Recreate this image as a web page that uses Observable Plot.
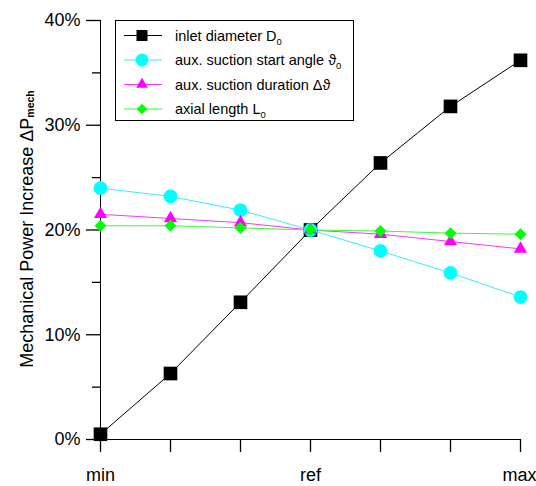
<!DOCTYPE html>
<html><head><meta charset="utf-8">
<script src="https://cdn.jsdelivr.net/npm/d3@7"></script>
<script src="https://cdn.jsdelivr.net/npm/@observablehq/plot@0.6"></script>
<style>body{margin:0;background:#fff}svg{font-family:"Liberation Sans",Arial,sans-serif}</style>
</head><body><div id="c"></div>
<script>
const positions = [0,1,2,3,4,5,6];
const xTickLabels = ["min","","","ref","","","max"];
const inletDiameter = [0.5, 6.3, 13.1, 20.0, 26.4, 31.8, 36.2];
const startAngle = [24.0, 23.2, 21.9, 20.0, 18.0, 15.9, 13.6];
const duration = [21.5, 21.1, 20.7, 20.0, 19.6, 18.9, 18.2];
const axialLength = [20.4, 20.4, 20.2, 20.0, 19.9, 19.7, 19.6];
const yTicks = [0,5,10,15,20,25,30,35,40];

const series = [
  {name:"inlet diameter", sub:"D", idx:"0", values:inletDiameter, color:"#000000", line:"#000000", symbol:"square", r:7.7, lr:6.2},
  {name:"aux. suction start angle", sub:"ϑ", idx:"0", values:startAngle, color:"#00ffff", line:"#33eeff", symbol:"circle", r:6.9, lr:6.4},
  {name:"aux. suction duration", sub:"Δϑ", idx:"", values:duration, color:"#ff00ff", line:"#ff33ff", symbol:"triangle", r:4.9, lr:4.3},
  {name:"axial length", sub:"L", idx:"0", values:axialLength, color:"#00ff00", line:"#33ff33", symbol:"diamond2", r:5.4, lr:4.8}
];
const rows = series.flatMap(s => s.values.map((v,i) => ({x:positions[i], y:v, s:s.name})));

const marks = [
  Plot.ruleY([0], {stroke:"#000", strokeWidth:1}),
  Plot.ruleX([0], {stroke:"#000", strokeWidth:1}),
  Plot.axisX({ticks:positions, tickSize:13, tickPadding:16, tickFormat:(d)=>xTickLabels[d], fontSize:18, label:null}),
  Plot.axisY({ticks:yTicks, tickSize:14, tickPadding:6, tickFormat:(d)=> d%10===0 ? d+"%" : "", fontSize:18, label:null}),
];
for (const s of series) {
  const d = rows.filter(r => r.s === s.name);
  marks.push(Plot.line(d, {x:"x", y:"y", stroke:s.line, strokeWidth:1}));
}
for (const s of series) {
  const d = rows.filter(r => r.s === s.name);
  marks.push(Plot.dot(d, {x:"x", y:"y", fill:s.color, symbol:s.symbol, r:s.r, stroke:"none"}));
}

const chart = Plot.plot({
  width:536, height:486,
  marginLeft:100, marginRight:16, marginTop:20, marginBottom:47,
  x:{domain:[0,6], axis:null},
  y:{domain:[0,40], axis:null},
  marks
});
const svg = d3.select(chart);
svg.selectAll("[aria-label='x-axis tick'] path, [aria-label='y-axis tick'] path").attr("stroke-width",1.3).attr("stroke","#000");
svg.selectAll("[aria-label='y-axis tick'] path").each(function(d,i){
  if (yTicks[i] % 10 !== 0) d3.select(this).attr("d","M0,0L-8,0");
});
svg.selectAll("[aria-label='x-axis tick label'] text").each(function(){
  if (this.textContent === "max") d3.select(this).attr("dx", -1);
});

// y-axis title
const t = svg.append("text").attr("transform","translate(33,229) rotate(-90)").attr("text-anchor","middle")
  .attr("font-size",18).attr("fill","#000");
t.append("tspan").text("Mechanical Power Increase ΔP");
t.append("tspan").attr("font-size",10.5).attr("dy",1).attr("font-weight","bold").text("mech");

// legend
const lg = svg.append("g").attr("text-anchor","start");
lg.append("rect").attr("x",115.5).attr("y",20.5).attr("width",238).attr("height",100).attr("fill","#fff").attr("stroke","#000").attr("stroke-width",1);
series.forEach((s,i) => {
  const y = 35.5 + i*24.5;
  lg.append("line").attr("x1",124).attr("x2",162).attr("y1",y).attr("y2",y).attr("stroke",s.line).attr("stroke-width",1.2);
  const sym = {square:d3.symbolSquare, circle:d3.symbolCircle, triangle:d3.symbolTriangle, diamond2:d3.symbolDiamond2}[s.symbol];
  lg.append("path").attr("d", d3.symbol(sym, Math.PI*s.lr*s.lr)()).attr("transform",`translate(142,${y})`).attr("fill",s.color);
  const tx = lg.append("text").attr("x",175).attr("y",y+5).attr("font-size",14.5).attr("fill","#000");
  tx.append("tspan").text(s.name + " " + s.sub);
  if (s.idx) tx.append("tspan").attr("font-size",9.5).attr("dy",4).text(s.idx);
});
document.getElementById("c").appendChild(chart);
</script></body></html>
